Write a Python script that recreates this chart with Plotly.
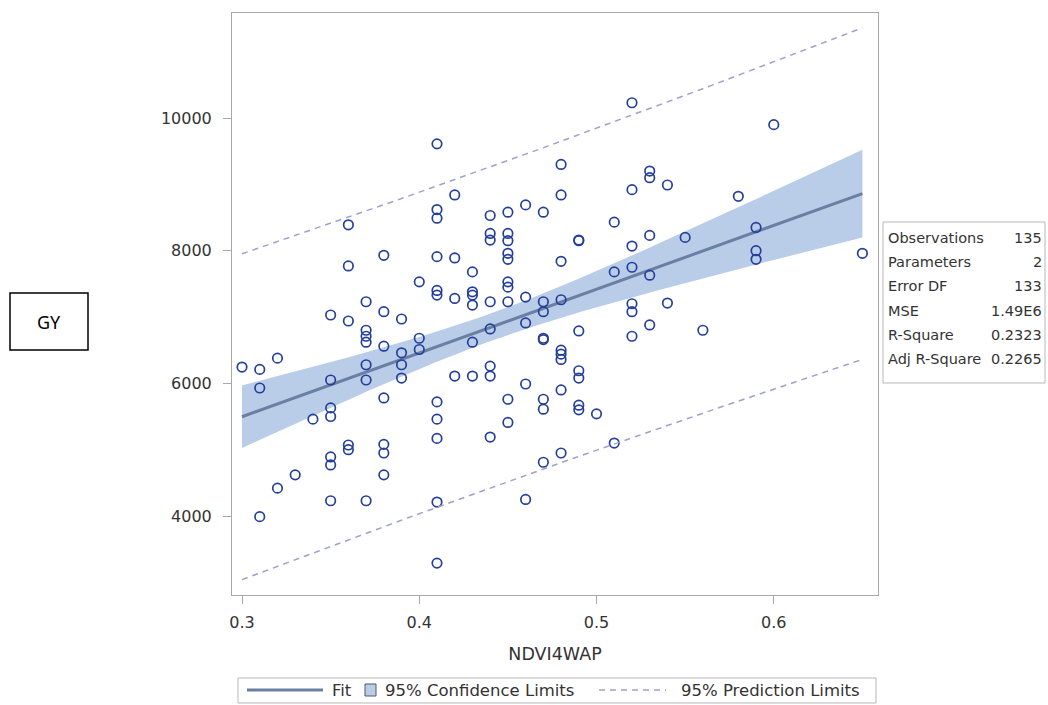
import numpy as np
import plotly.graph_objects as go

# ---- data (NDVI4WAP levels and GY values at each level) ----
ndvi_levels = [0.30, 0.31, 0.32, 0.33, 0.34, 0.35, 0.36, 0.37, 0.38, 0.39,
               0.40, 0.41, 0.42, 0.43, 0.44, 0.45, 0.46, 0.47, 0.48, 0.49,
               0.50, 0.51, 0.52, 0.53, 0.54, 0.55, 0.56, 0.58, 0.59, 0.60, 0.65]
gy_groups = [
    [6245],
    [6210, 5930, 3990],
    [6380, 4420],
    [4620],
    [5460],
    [7030, 6050, 5630, 5500, 4890, 4770, 4230],
    [8390, 7770, 6940, 5070, 5000],
    [7230, 6800, 6710, 6620, 6280, 6050, 4230],
    [7930, 7080, 6560, 5780, 5080, 4950, 4620],
    [6970, 6460, 6280, 6080],
    [7530, 6680, 6510],
    [9610, 8620, 8490, 7910, 7400, 7330, 5720, 5460, 5170, 4210, 3290],
    [8840, 7890, 7280, 6110],
    [7680, 7380, 7330, 7180, 6620, 6110],
    [8530, 8260, 8160, 7230, 6820, 6260, 6110, 5190],
    [8580, 8260, 8150, 7960, 7870, 7530, 7450, 7230, 5760, 5410],
    [8690, 7300, 6910, 5990, 4250],
    [8580, 7230, 7080, 6680, 6660, 5760, 5610, 4810],
    [9300, 8840, 7840, 7260, 6500, 6440, 6360, 5900, 4950],
    [8160, 8150, 6790, 6190, 6080, 5670, 5600],
    [5540],
    [8430, 7680, 5100],
    [10230, 8920, 8070, 7750, 7200, 7080, 6710],
    [9200, 9100, 8230, 7630, 6880],
    [8990, 7210],
    [8200],
    [6800],
    [8820],
    [8350, 8000, 7870],
    [9900],
    [7960],
]

stat_labels = ["Observations", "Parameters", "Error DF", "MSE", "R-Square", "Adj R-Square"]
stat_values = ["135", "2", "133", "1.49E6", "0.2323", "0.2265"]

legend_labels = ["Fit", "95% Confidence Limits", "95% Prediction Limits"]

x_ticks = [0.3, 0.4, 0.5, 0.6]
y_ticks = [4000, 6000, 8000, 10000]

# ---- flatten ----
ndvi = []
gy = []
for lv, grp in zip(ndvi_levels, gy_groups):
    for v in grp:
        ndvi.append(lv)
        gy.append(v)
ndvi = np.array(ndvi)
gy = np.array(gy, dtype=float)

# ---- simple linear regression with 95% limits ----
n = len(ndvi)
slope, intercept = np.polyfit(ndvi, gy, 1)
resid = gy - (intercept + slope * ndvi)
s2 = np.sum(resid ** 2) / (n - 2)
xbar = ndvi.mean()
sxx = np.sum((ndvi - xbar) ** 2)
t975 = 1.978
xg = np.linspace(ndvi.min(), ndvi.max(), 120)
yfit = intercept + slope * xg
se_mean = np.sqrt(s2 * (1.0 / n + (xg - xbar) ** 2 / sxx))
se_pred = np.sqrt(s2 * (1.0 + 1.0 / n + (xg - xbar) ** 2 / sxx))
cl_lo, cl_hi = yfit - t975 * se_mean, yfit + t975 * se_mean
pl_lo, pl_hi = yfit - t975 * se_pred, yfit + t975 * se_pred

FONT = "DejaVu Sans, Liberation Sans, sans-serif"
TXT = "#333333"
band_col = "#b9cce8"
fit_col = "#6a80a3"
mk_col = "#243f9a"
pred_col = "#a0a0cc"
frame_col = "#a8a8a8"

fig = go.Figure()
fig.add_trace(go.Scatter(x=xg, y=cl_lo, mode="lines", line=dict(width=0, color=band_col),
                         showlegend=False, hoverinfo="skip"))
fig.add_trace(go.Scatter(x=xg, y=cl_hi, mode="lines", line=dict(width=0, color=band_col),
                         fill="tonexty", fillcolor=band_col, showlegend=False))
fig.add_trace(go.Scatter(x=xg, y=yfit, mode="lines", line=dict(color=fit_col, width=3),
                         showlegend=False))
fig.add_trace(go.Scatter(x=ndvi, y=gy, mode="markers", showlegend=False,
                         marker=dict(symbol="circle-open", size=9.5, color=mk_col,
                                     line=dict(width=1.7, color=mk_col))))
fig.add_trace(go.Scatter(x=xg, y=pl_hi, mode="lines", line=dict(color=pred_col, width=1.5, dash="6px,5px"),
                         showlegend=False))
fig.add_trace(go.Scatter(x=xg, y=pl_lo, mode="lines", line=dict(color=pred_col, width=1.5, dash="6px,5px"),
                         showlegend=False))

L, R, T, B = 232, 170, 13, 110
W, H = 1048, 705
pw, ph = W - L - R, H - T - B


def px2x(px):
    return (px - L) / pw


def py2y(py):
    return (H - B - py) / ph


shapes = []
annotations = []
# GY box
shapes.append(dict(type="rect", xref="paper", yref="paper",
                   x0=px2x(10), x1=px2x(88), y0=py2y(350), y1=py2y(293),
                   line=dict(color="black", width=1.5)))
annotations.append(dict(xref="paper", yref="paper", x=px2x(49), y=py2y(321.5), text="GY",
                        showarrow=False, font=dict(family="Noto Sans, sans-serif", size=18, color="black"),
                        xanchor="center", yanchor="middle"))
# stats box
shapes.append(dict(type="rect", xref="paper", yref="paper",
                   x0=px2x(883), x1=px2x(1045), y0=py2y(383), y1=py2y(222),
                   line=dict(color="#b8b8b8", width=1)))
for i, (lab, val) in enumerate(zip(stat_labels, stat_values)):
    yy = py2y(238 + i * 24.2)
    annotations.append(dict(xref="paper", yref="paper", x=px2x(886), y=yy, text=lab,
                            showarrow=False, xanchor="left", yanchor="middle",
                            font=dict(family=FONT, size=14.5, color=TXT)))
    annotations.append(dict(xref="paper", yref="paper", x=px2x(1044), y=yy, text=val,
                            showarrow=False, xanchor="right", yanchor="middle",
                            font=dict(family=FONT, size=14.5, color=TXT)))

# legend (drawn as decoration below the axis)
ly = py2y(690)
shapes.append(dict(type="rect", xref="paper", yref="paper",
                   x0=px2x(238), x1=px2x(876), y0=py2y(703), y1=py2y(678),
                   line=dict(color="#b8b8b8", width=1)))
shapes.append(dict(type="line", xref="paper", yref="paper", x0=px2x(247), x1=px2x(323), y0=ly, y1=ly,
                   line=dict(color=fit_col, width=3)))
shapes.append(dict(type="rect", xref="paper", yref="paper", x0=px2x(365), x1=px2x(376),
                   y0=py2y(696), y1=py2y(684), fillcolor=band_col, line=dict(color="#505a6a", width=1)))
shapes.append(dict(type="line", xref="paper", yref="paper", x0=px2x(599), x1=px2x(666), y0=ly, y1=ly,
                   line=dict(color=pred_col, width=1.5, dash="6px,5px")))
for txt, px in zip(legend_labels, [330, 383, 679]):
    annotations.append(dict(xref="paper", yref="paper", x=px2x(px), y=ly, text=txt,
                            showarrow=False, xanchor="left", yanchor="middle",
                            font=dict(family=FONT, size=16.5, color=TXT)))

fig.update_layout(
    width=W, height=H, autosize=False,
    margin=dict(l=L, r=R, t=T, b=B, autoexpand=False),
    paper_bgcolor="white", plot_bgcolor="white",
    font=dict(family=FONT, color=TXT, size=14),
    shapes=shapes, annotations=annotations,
    showlegend=False,
    xaxis=dict(range=[0.29435, 0.6588], tickvals=x_ticks, ticktext=[f"{v:.1f}" for v in x_ticks],
               ticks="outside", ticklen=8, tickcolor=frame_col, showline=True, linecolor=frame_col,
               mirror=True, showgrid=False, zeroline=False, tickfont=dict(size=16, color=TXT),
               ticklabelstandoff=5, automargin=False,
               title=dict(text="NDVI4WAP", font=dict(size=17.5, color=TXT), standoff=16)),
    yaxis=dict(range=[2809, 11583], tickvals=y_ticks, ticktext=[str(v) for v in y_ticks],
               ticks="outside", ticklen=8, tickcolor=frame_col, showline=True, linecolor=frame_col,
               mirror=True, showgrid=False, zeroline=False, tickfont=dict(size=16, color=TXT),
               ticklabelstandoff=8, automargin=False),
)

fig.write_html("out.html", config={"displayModeBar": False},
               post_script="document.body.style.margin='0';document.body.style.padding='0';")
